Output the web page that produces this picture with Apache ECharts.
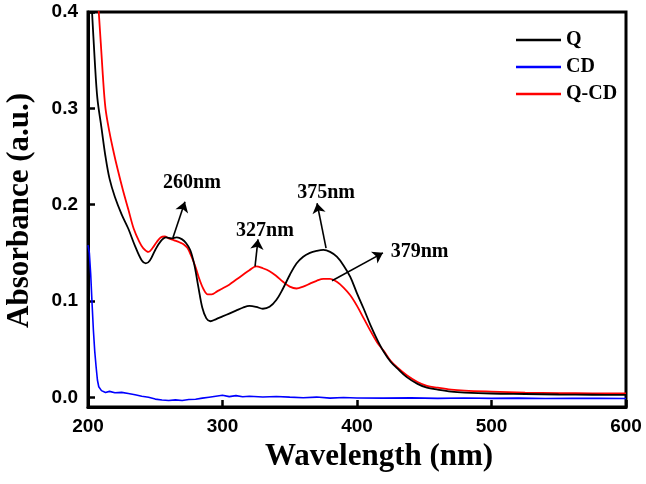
<!DOCTYPE html>
<html>
<head>
<meta charset="utf-8">
<script src="https://cdn.jsdelivr.net/npm/echarts@6/dist/echarts.min.js"></script>
<style>
html,body{margin:0;padding:0;background:#fff;}
#chart{width:646px;height:484px;}
</style>
</head>
<body>
<div id="chart"></div>
<script>
// ---- data ----
var xTicks = [200, 300, 400, 500, 600];
var yTicks = [0.0, 0.1, 0.2, 0.3, 0.4];
var seriesNames = ['Q', 'CD', 'Q-CD'];

var qWavelength = [200,203,205,207,210,213,216,220,225,230,235,240,243,246,250,254,258,262,266,270,273,276,279,282,285,288,291,295,300,305,310,315,320,325,330,335,340,345,350,355,360,365,370,375,380,385,390,395,400,405,410,415,420,425,430,437,445,452,460,470,480,500,525,550,575,600];
var qAbsorbance = [0.47,0.40,0.35,0.31,0.28,0.25,0.227,0.208,0.19,0.175,0.157,0.142,0.139,0.142,0.153,0.162,0.166,0.165,0.166,0.164,0.160,0.153,0.138,0.115,0.093,0.082,0.079,0.081,0.084,0.087,0.090,0.093,0.095,0.094,0.092,0.094,0.101,0.113,0.127,0.139,0.146,0.150,0.152,0.153,0.151,0.146,0.137,0.125,0.108,0.092,0.075,0.060,0.047,0.037,0.030,0.021,0.014,0.010,0.008,0.006,0.005,0.004,0.0035,0.003,0.0027,0.0025];

var qcdWavelength = [200,204,208,211,213,216,219,222,226,230,234,238,241,245,248,251,254,257,260,264,268,271,274,277,280,283,286,289,292,296,300,305,310,315,320,325,330,335,340,345,350,355,360,365,370,375,380,385,390,395,400,405,410,415,420,425,430,437,445,452,460,470,480,500,525,550,575,600];
var qcdAbsorbance = [0.56,0.47,0.40,0.335,0.30,0.275,0.255,0.237,0.215,0.195,0.175,0.162,0.155,0.151,0.155,0.161,0.166,0.167,0.165,0.163,0.161,0.159,0.155,0.146,0.135,0.122,0.112,0.107,0.107,0.110,0.113,0.117,0.122,0.127,0.132,0.136,0.134,0.131,0.126,0.120,0.115,0.113,0.115,0.118,0.121,0.123,0.123,0.120,0.114,0.106,0.095,0.082,0.069,0.057,0.048,0.038,0.031,0.023,0.016,0.012,0.010,0.008,0.007,0.006,0.005,0.0045,0.0042,0.004];

var cdWavelength = [200,201,202,203,204,205,206,207,208,210,213,216,220,225,230,235,240,245,250,255,260,265,270,275,280,285,290,295,300,305,310,315,320,330,340,350,360,370,380,390,400,420,440,460,480,500,520,540,560,580,600];
var cdAbsorbance = [0.158,0.150,0.128,0.098,0.070,0.048,0.032,0.018,0.011,0.007,0.005,0.0062,0.0048,0.0052,0.004,0.0028,0.0012,0.0002,-0.0018,-0.0028,-0.0032,-0.0026,-0.0033,-0.0022,-0.002,-0.0008,0.0002,0.0012,0.0022,0.0008,0.0018,0.0006,0.0012,0.0004,0.0009,0.0002,-0.0004,0.0003,-0.0008,-0.0002,-0.0006,-0.0008,-0.0005,-0.001,-0.0007,-0.001,-0.0008,-0.0011,-0.0009,-0.001,-0.0011];

function pairs(xs, ys){ return xs.map(function(x,i){ return [x, ys[i]]; }); }

var serif = '"Liberation Serif","Times New Roman",serif';
var sans = '"Liberation Sans",Arial,sans-serif';

var arrowStyle = {color:'#000', width:1.6, type:'solid'};

var chart = echarts.init(document.getElementById('chart'), null, {renderer:'canvas'});
chart.setOption({
  animation: false,
  backgroundColor: '#fff',
  grid: {left:88, right:20, top:12, bottom:77, show:true, borderColor:'#000', borderWidth:3, containLabel:false},
  legend: {
    orient:'vertical', left:511, top:25, itemWidth:45, itemHeight:2.5, itemGap:7, icon:'rect',
    data: seriesNames,
    textStyle:{fontFamily: serif, fontWeight:'bold', fontSize:20, color:'#000', lineHeight:20}
  },
  xAxis: {
    type:'value', min:xTicks[0], max:xTicks[xTicks.length-1], interval:100,
    axisLine:{show:true, onZero:false, lineStyle:{color:'#000', width:3}},
    axisTick:{show:true, inside:true, length:7, lineStyle:{color:'#000', width:2.5}},
    axisLabel:{fontFamily: sans, fontWeight:'bold', fontSize:19, color:'#000', margin:10},
    splitLine:{show:false}
  },
  yAxis: {
    type:'value', min:-0.01, max:yTicks[yTicks.length-1],
    axisLine:{show:true, onZero:false, lineStyle:{color:'#000', width:3}},
    axisTick:{show:true, inside:true, length:7, lineStyle:{color:'#000', width:2.5}, customValues: yTicks},
    axisLabel:{fontFamily: sans, fontWeight:'bold', fontSize:19, color:'#000', margin:10, customValues: yTicks,
      formatter:function(v){ return v.toFixed(1); }},
    splitLine:{show:false}
  },
  graphic: [
    {type:'text', left:265, top:441, style:{text:'Wavelength (nm)', font:'bold 31px ' + serif, fill:'#000'}},
    {type:'text', rotation:Math.PI/2, x:4, y:328, style:{text:'Absorbance (a.u.)', font:'bold 31px ' + serif, fill:'#000'}}
  ],
  series: [
    {
      name: seriesNames[0], type:'line', data: pairs(qWavelength, qAbsorbance),
      showSymbol:false, smooth:0.35, color:'#000', lineStyle:{color:'#000', width:1.8}, z:3,
      markLine: {
        silent:true, symbol:['none','arrow'], symbolSize:10, lineStyle: arrowStyle,
        itemStyle:{color:'#000'}, label:{show:false},
        data: [
          [{coord:[263.2,0.166]},{coord:[272.1,0.203]}],
          [{coord:[324.2,0.136]},{coord:[326.4,0.164]}],
          [{coord:[377,0.155]},{coord:[370.3,0.2015]}],
          [{coord:[381.4,0.121]},{coord:[419.3,0.150]}]
        ]
      },
      markPoint: {
        silent:true, symbol:'circle', symbolSize:0,
        label:{show:true, position:'inside', formatter:function(p){return p.name;}, fontFamily: serif, fontWeight:'bold', fontSize:20, color:'#000'},
        data: [
          {name:'260nm', coord:[277.3,0.223]},
          {name:'327nm', coord:[331.6,0.173]},
          {name:'375nm', coord:[377,0.212]},
          {name:'379nm', coord:[446.5,0.151]}
        ]
      }
    },
    {
      name: seriesNames[1], type:'line', data: pairs(cdWavelength, cdAbsorbance),
      showSymbol:false, color:'#0000ff', lineStyle:{color:'#0000ff', width:1.6}, z:2
    },
    {
      name: seriesNames[2], type:'line', data: pairs(qcdWavelength, qcdAbsorbance),
      showSymbol:false, smooth:0.35, color:'#ff0000', lineStyle:{color:'#ff0000', width:1.8}, z:2
    }
  ]
});
</script>
</body>
</html>
